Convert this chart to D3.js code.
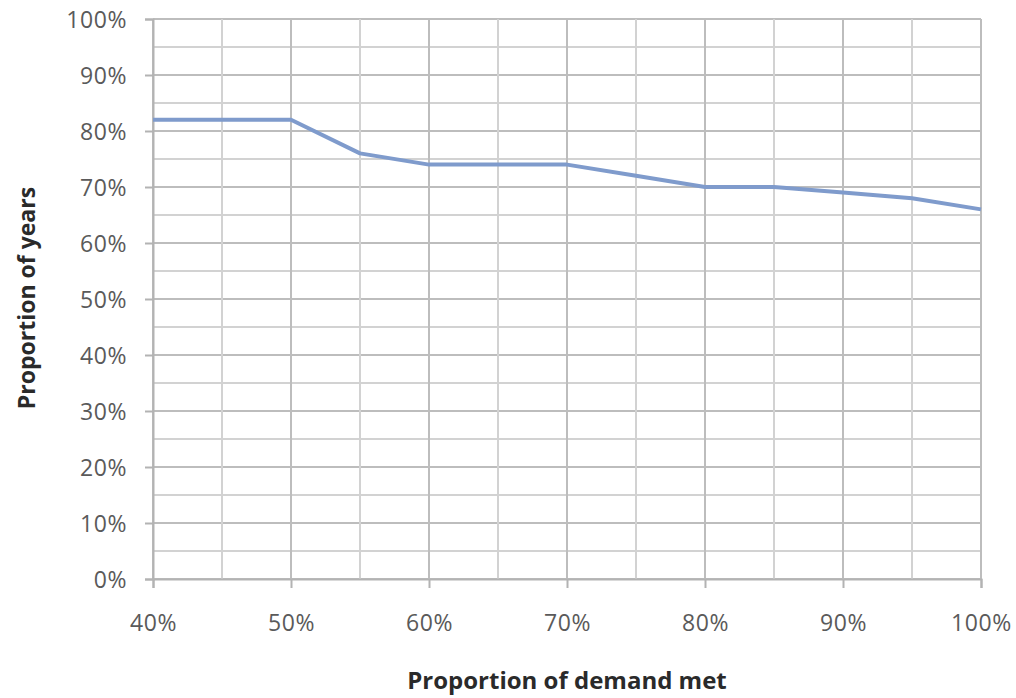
<!DOCTYPE html>
<html><head><meta charset="utf-8">
<script src="https://cdn.jsdelivr.net/npm/d3@7"></script>
<style>body{margin:0;background:#fff;} svg{display:block;}</style>
</head><body>
<svg id="c" width="1016" height="698"></svg>
<script>
const xValues = [0.40,0.45,0.50,0.55,0.60,0.65,0.70,0.75,0.80,0.85,0.90,0.95,1.00];
const yValues = [0.82,0.82,0.82,0.76,0.74,0.74,0.74,0.72,0.70,0.70,0.69,0.68,0.66];
const xTicks = [0.4,0.5,0.6,0.7,0.8,0.9,1.0];
const yTicks = [0,0.1,0.2,0.3,0.4,0.5,0.6,0.7,0.8,0.9,1.0];
const xTitle = "Proportion of demand met";
const yTitle = "Proportion of years";

const svg = d3.select("#c");
const L=153, R=981, T=19, B=579;
const x = d3.scaleLinear().domain([0.4,1.0]).range([L,R]);
const y = d3.scaleLinear().domain([0,1]).range([B,T]);
const fmt = d3.format(".0%");
const font = "'Open Sans', sans-serif";

// minor gridlines
const minorY = d3.range(0,21).map(i=>i*0.05);
const minorX = d3.range(0,13).map(i=>0.4+i*0.05);
svg.append("g").selectAll("line").data(minorY).join("line")
  .attr("x1",L).attr("x2",R).attr("y1",d=>y(d)).attr("y2",d=>y(d))
  .attr("stroke",d=>Math.round(d*20)%2===0?"#bdbdbd":"#d2d2d2").attr("stroke-width",2);
svg.append("g").selectAll("line").data(minorX).join("line")
  .attr("y1",T).attr("y2",B).attr("x1",d=>x(d)).attr("x2",d=>x(d))
  .attr("stroke",d=>Math.round(d*20)%2===0?"#bdbdbd":"#d2d2d2").attr("stroke-width",2);

// axes
const xAxis = svg.append("g").attr("transform",`translate(0,${B})`)
  .call(d3.axisBottom(x).tickValues(xTicks).tickFormat(fmt).tickSize(9).tickPadding(27));
const yAxis = svg.append("g").attr("transform",`translate(${L},0)`)
  .call(d3.axisLeft(y).tickValues(yTicks).tickFormat(fmt).tickSize(8).tickPadding(18));
[xAxis,yAxis].forEach(a=>{
  a.select(".domain").attr("stroke","#b3b3b3").attr("stroke-width",2);
  a.selectAll(".tick line").attr("stroke","#b3b3b3").attr("stroke-width",2);
  a.selectAll("text").attr("fill","#5a5a5a").style("font-family",font).style("font-size","23px").style("letter-spacing","0.6px");
});
yAxis.selectAll("text").attr("dy","0.35em");

// line
svg.append("path").datum(xValues.map((d,i)=>[d,yValues[i]]))
  .attr("fill","none").attr("stroke","#7f9bcc").attr("stroke-width",4)
  .attr("stroke-linejoin","round")
  .attr("d",d3.line().x(d=>x(d[0])).y(d=>y(d[1])));

// titles
svg.append("text").attr("x",567).attr("y",689).attr("text-anchor","middle")
  .style("font-family",font).style("font-size","24px").style("font-weight","bold").attr("fill","#2a2a2a")
  .text(xTitle);
svg.append("text").attr("transform","translate(35,298) rotate(-90)").attr("text-anchor","middle")
  .style("font-family",font).style("font-size","23px").style("font-weight","bold").attr("fill","#2a2a2a")
  .text(yTitle);
</script>
</body></html>
